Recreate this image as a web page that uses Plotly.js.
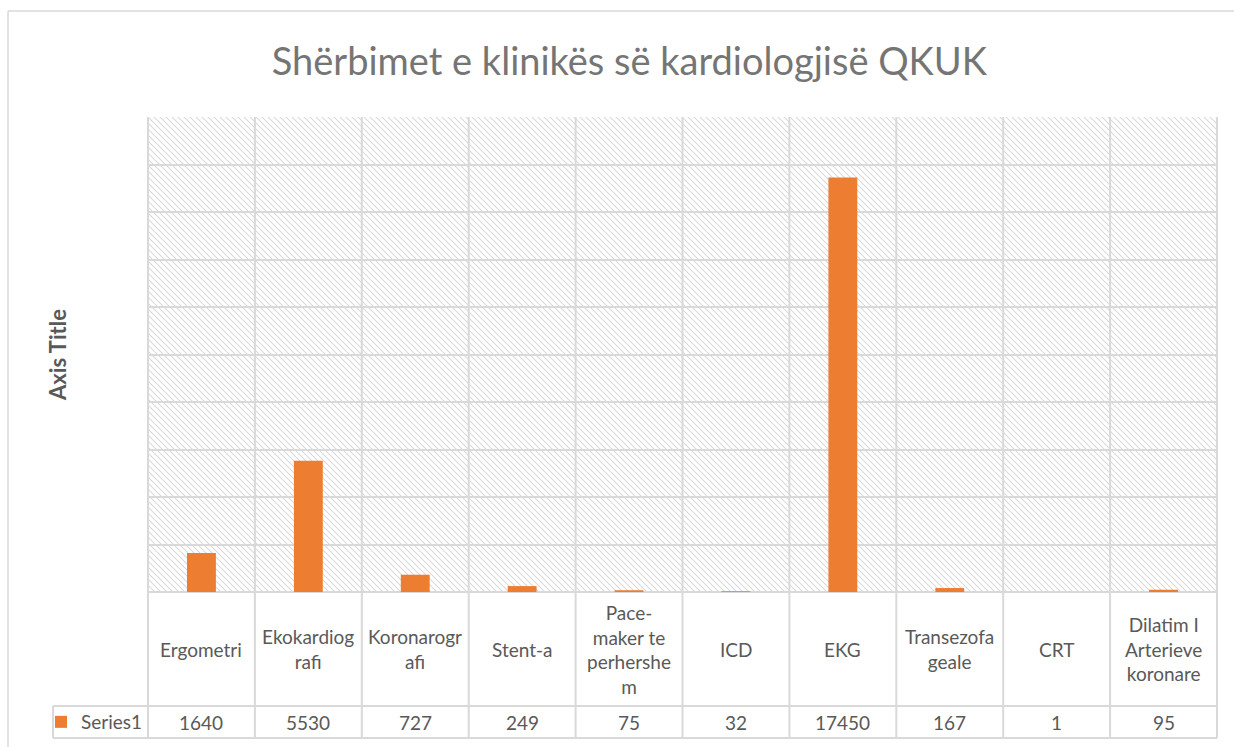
<!DOCTYPE html>
<html>
<head>
<meta charset="utf-8">
<script src="https://cdn.plot.ly/plotly-3.0.1.min.js"></script>
<style>
  html, body { margin: 0; padding: 0; background: #fff; }
  #chart { width: 1234px; height: 747px; }
</style>
</head>
<body>
<div id="chart"></div>
<script>
// Services of the cardiology clinic (QKUK)
const categories = [
    'Ergometri', 'Ekokardiografi', 'Koronarografi', 'Stent-a', 'Pace-maker te perhershem',
    'ICD', 'EKG', 'Transezofageale', 'CRT', 'Dilatim I Arterieve koronare'
];
// wrapped labels as they appear in the data table
const tableLabels = [
    'Ergometri', 'Ekokardiog<br>rafi', 'Koronarogr<br>afi', 'Stent-a', 'Pace-<br>maker te<br>perhershe<br>m',
    'ICD', 'EKG', 'Transezofa<br>geale', 'CRT', 'Dilatim I<br>Arterieve<br>koronare'
];
const series1 = [1640, 5530, 727, 249, 75, 32, 17450, 167, 1, 95];

const textColor = '#595959';
const titleColor = '#757575';
const gridColor = '#d9d9d9';
const barColor = '#ED7D31';
const font = 'Lato, "Open Sans", sans-serif';

// hatched plot background (light downward diagonal)
function hatchImage(w, h, step) {
    const svg = "<svg xmlns='http://www.w3.org/2000/svg' width='" + w + "' height='" + h + "' preserveAspectRatio='none'>" +
        "<defs><pattern id='p' width='" + step + "' height='" + step + "' patternUnits='userSpaceOnUse'>" +
        "<path d='M-1,-1 L" + (step + 1) + "," + (step + 1) + " M" + (step - 1) + ",-1 L" + (step + 1) + ",1 M-1," + (step - 1) + " L1," + (step + 1) + "' stroke='#dadada' stroke-width='1.1'/>" +
        "</pattern></defs><rect width='100%' height='100%' fill='#ffffff'/><rect width='100%' height='100%' fill='url(#p)'/></svg>";
    return 'data:image/svg+xml;charset=utf-8,' + encodeURIComponent(svg);
}

function plotData() {
    const n = categories.length;
    const plotW = 1234 - 148 - 17;
    const plotH = 747 - 117 - 155;
    const px = (p) => p / plotW;           // pixel -> paper x offset
    const py = (p) => p / plotH;           // pixel -> paper y offset

    const rowTop = -py(114);               // bottom of category row
    const rowBot = -py(146);               // bottom of value row
    const leftCol = -px(95);               // left edge of legend cell

    const barTrace = {
        x: categories,
        y: series1,
        type: 'bar',
        name: 'Series1',
        width: 0.27,
        marker: { color: barColor },
        showlegend: true
    };

    const shapes = [];
    // vertical grid + table column lines
    for (let i = 0; i <= n; i++) {
        shapes.push({
            type: 'line', xref: 'paper', yref: 'paper',
            x0: i / n, x1: i / n, y0: rowBot, y1: 1,
            line: { color: gridColor, width: 2 }
        });
    }
    // table row lines
    [rowTop, rowBot].forEach((y) => {
        shapes.push({
            type: 'line', xref: 'paper', yref: 'paper',
            x0: leftCol, x1: 1, y0: y, y1: y,
            line: { color: gridColor, width: 2 }
        });
    });
    shapes.push({
        type: 'line', xref: 'paper', yref: 'paper',
        x0: leftCol, x1: leftCol, y0: rowTop, y1: rowBot,
        line: { color: gridColor, width: 2 }
    });
    // chart area border (cropped at right and bottom)
    shapes.push({
        type: 'line', xref: 'paper', yref: 'paper',
        x0: -px(140), x1: -px(140), y0: 1 + py(106), y1: -py(200),
        line: { color: gridColor, width: 1.5 }
    });
    shapes.push({
        type: 'line', xref: 'paper', yref: 'paper',
        x0: -px(140), x1: 1 + px(40), y0: 1 + py(106), y1: 1 + py(106),
        line: { color: gridColor, width: 1.5 }
    });

    const annotations = [];
    categories.forEach((c, i) => {
        annotations.push({
            x: c, xref: 'x', y: -py(57), yref: 'paper',
            text: tableLabels[i], showarrow: false,
            xanchor: 'center', yanchor: 'middle', align: 'center',
            font: { family: font, size: 19, color: textColor }
        });
        annotations.push({
            x: c, xref: 'x', y: -py(130), yref: 'paper',
            text: String(series1[i]), showarrow: false,
            xanchor: 'center', yanchor: 'middle',
            font: { family: font, size: 19, color: textColor }
        });
    });

    const layout = {
        width: 1234,
        height: 747,
        margin: { l: 148, r: 17, t: 117, b: 155, autoexpand: false },
        paper_bgcolor: '#ffffff',
        plot_bgcolor: 'rgba(0,0,0,0)',
        title: {
            text: 'Shërbimet e klinikës së kardiologjisë QKUK',
            xref: 'container', x: 0.51, xanchor: 'center',
            yref: 'container', y: 1 - 62 / 747, yanchor: 'middle',
            font: { family: font, size: 38, color: titleColor }
        },
        xaxis: {
            type: 'category',
            showticklabels: false,
            showgrid: false,
            zeroline: false,
            showline: false,
            ticks: ''
        },
        yaxis: {
            range: [0, 20000],
            dtick: 2000,
            showticklabels: false,
            showgrid: true,
            gridcolor: gridColor,
            gridwidth: 2,
            zeroline: true,
            zerolinecolor: gridColor,
            zerolinewidth: 2,
            showline: false,
            ticks: '',
            title: {
                text: '<b>Axis Title</b>',
                standoff: 74,
                font: { family: font, size: 22, color: textColor }
            },
            automargin: false
        },
        showlegend: true,
        legend: {
            x: -px(107), xanchor: 'left',
            y: -py(130), yanchor: 'middle',
            xref: 'paper', yref: 'paper',
            itemwidth: 30,
            bgcolor: 'rgba(0,0,0,0)',
            font: { family: font, size: 19, color: textColor }
        },
        images: [{
            source: hatchImage(plotW, plotH, 6),
            xref: 'paper', yref: 'paper',
            x: 0, y: 1, sizex: 1, sizey: 1,
            sizing: 'stretch', xanchor: 'left', yanchor: 'top',
            layer: 'below'
        }],
        shapes: shapes,
        annotations: annotations,
        bargap: 0.73
    };

    Plotly.newPlot('chart', [barTrace], layout, { displayModeBar: false, staticPlot: true });
}

plotData();
</script>
</body>
</html>
